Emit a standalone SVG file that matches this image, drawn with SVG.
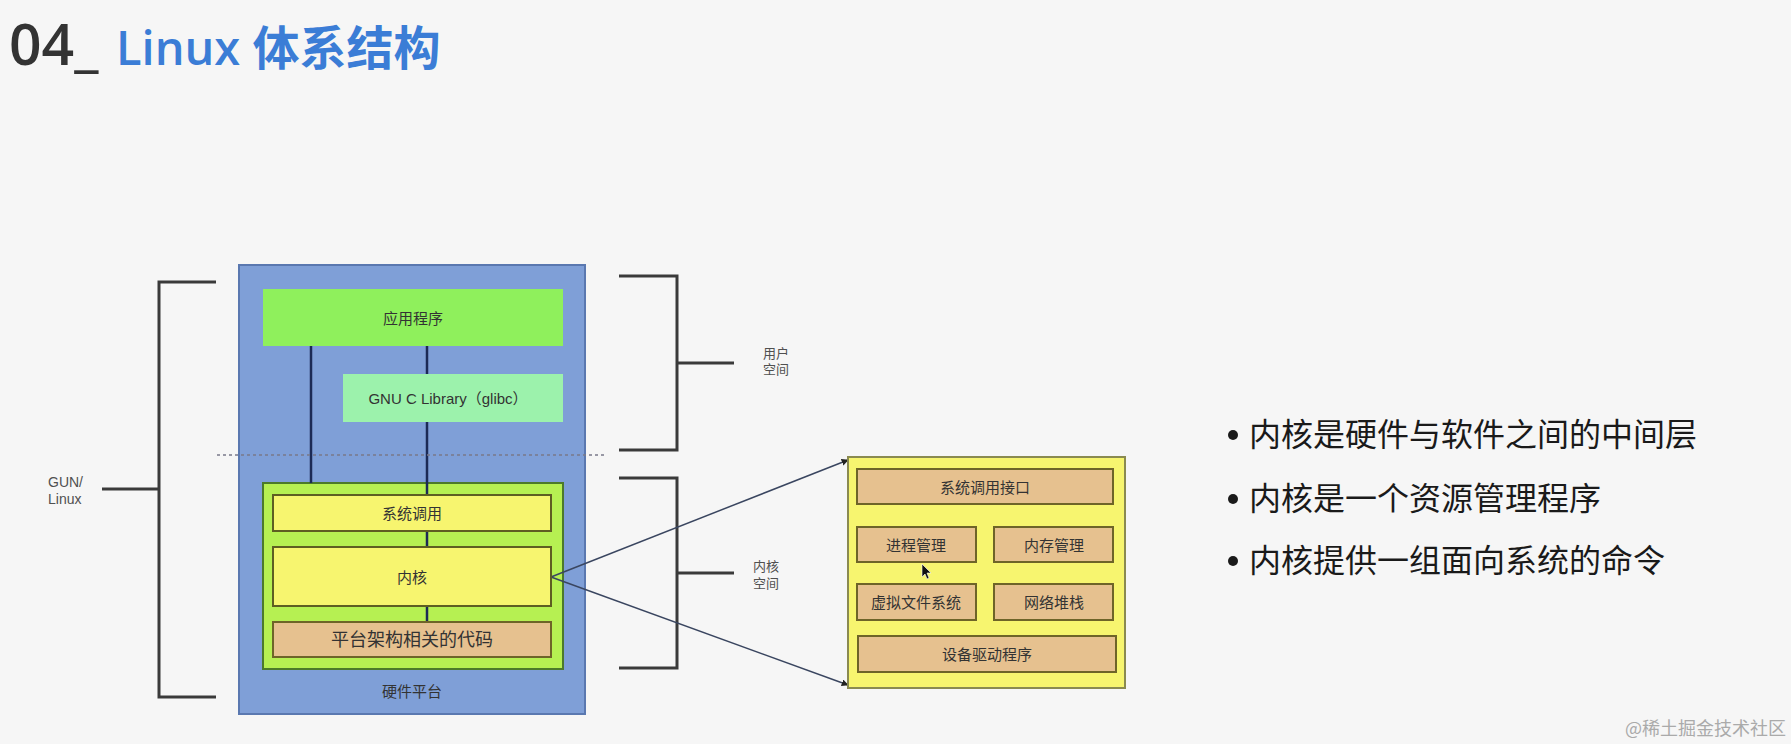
<svg xmlns="http://www.w3.org/2000/svg" width="1791" height="744" viewBox="0 0 1791 744">
<defs>
<style>
.lbl{font-family:"Liberation Sans","Noto Sans CJK SC",sans-serif;font-size:15px;fill:#333;text-anchor:middle;dominant-baseline:central}
.side{font-family:"Liberation Sans","Noto Sans CJK SC",sans-serif;font-size:14px;fill:#505050}
.bul{font-family:"Noto Sans CJK SC",sans-serif;font-size:32px;fill:#1a1a1a}
.brk{fill:none;stroke:#3a3a3a;stroke-width:3}
.vl{stroke:#1c2a55;stroke-width:2.5}
.tan{fill:#e6c18f;stroke:#6e6428;stroke-width:2}
.yel{fill:#f7f56f;stroke:#5e5e22;stroke-width:2}
.arr{stroke:#3a4660;stroke-width:1.5;fill:none;marker-end:url(#ah)}
</style>
<marker id="ah" viewBox="0 0 10 10" refX="9" refY="5" markerWidth="7" markerHeight="7" orient="auto" markerUnits="userSpaceOnUse">
<path d="M0,0 L10,5 L0,10 z" fill="#222"/>
</marker>
</defs>
<rect width="1791" height="744" fill="#f6f6f6"/>

<g id="title">
<text x="9" y="65" font-family="'Open Sans','Liberation Sans',sans-serif" font-weight="600" font-size="57" fill="#333">04_</text>
<text x="116" y="65" font-family="'Open Sans','Noto Sans CJK SC',sans-serif" font-weight="600" font-size="47" fill="#3b7dd6">Linux 体系结构</text>
</g>

<g id="hardware">
<rect x="239" y="265" width="346" height="449" fill="#7f9fd7" stroke="#5a78b0" stroke-width="2"/>
<text class="lbl" x="412" y="691">硬件平台</text>
</g>

<g id="app">
<rect x="263" y="289" width="300" height="57" fill="#8ff05c"/>
<text class="lbl" x="413" y="318">应用程序</text>
</g>

<g id="glibc">
<rect x="343" y="374" width="220" height="48" fill="#9cf2ac"/>
<text class="lbl" x="448" y="398">GNU C Library（glibc）</text>
</g>

<g id="kernel-space-box">
<rect x="263" y="483" width="300" height="186" fill="#b6f052" stroke="#4c7a2a" stroke-width="2"/>
</g>

<g id="connectors">
<line class="vl" x1="311" y1="346" x2="311" y2="483"/>
<line class="vl" x1="427" y1="346" x2="427" y2="374"/>
<line class="vl" x1="427" y1="422" x2="427" y2="495"/>
<line class="vl" x1="427" y1="531" x2="427" y2="547"/>
<line class="vl" x1="427" y1="606" x2="427" y2="622"/>
<line x1="217" y1="455" x2="607" y2="455" stroke="#7a7a8a" stroke-width="1.5" stroke-dasharray="3,3"/>
<path class="brk" d="M216,282 H159 V697 H216 M159,489 H102"/>
<path class="brk" d="M619,276 H677 V450 H619 M677,363 H734"/>
<path class="brk" d="M619,478 H677 V668 H619 M677,573 H734"/>
<line class="arr" x1="551" y1="577" x2="848" y2="460"/>
<line class="arr" x1="551" y1="577" x2="848" y2="685"/>
</g>

<g id="syscall">
<rect class="yel" x="273" y="495" width="278" height="36"/>
<text class="lbl" x="412" y="513">系统调用</text>
</g>
<g id="kernel">
<rect class="yel" x="273" y="547" width="278" height="59"/>
<text class="lbl" x="412" y="577">内核</text>
</g>
<g id="arch">
<rect class="tan" x="273" y="622" width="278" height="35"/>
<text class="lbl" x="412" y="640" style="font-size:18px">平台架构相关的代码</text>
</g>

<g id="gnu-linux-label">
<text class="side" x="48" y="487">GUN/</text>
<text class="side" x="48" y="504">Linux</text>
</g>
<g id="user-space-label">
<text class="side" x="763" y="358" style="font-size:13px">用户</text>
<text class="side" x="763" y="374" style="font-size:13px">空间</text>
</g>
<g id="kernel-space-label">
<text class="side" x="753" y="571" style="font-size:13px">内核</text>
<text class="side" x="753" y="588" style="font-size:13px">空间</text>
</g>

<g id="kernel-detail">
<rect x="848" y="457" width="277" height="231" fill="#f7f56f" stroke="#8a8a50" stroke-width="2"/>
</g>
<g id="sci">
<rect class="tan" x="857" y="469" width="256" height="35"/>
<text class="lbl" x="985" y="487">系统调用接口</text>
</g>
<g id="proc">
<rect class="tan" x="857" y="527" width="119" height="35"/>
<text class="lbl" x="916" y="545">进程管理</text>
</g>
<g id="mem">
<rect class="tan" x="994" y="527" width="119" height="35"/>
<text class="lbl" x="1054" y="545">内存管理</text>
</g>
<g id="vfs">
<rect class="tan" x="857" y="584" width="119" height="36"/>
<text class="lbl" x="916" y="602">虚拟文件系统</text>
</g>
<g id="net">
<rect class="tan" x="994" y="584" width="119" height="36"/>
<text class="lbl" x="1054" y="602">网络堆栈</text>
</g>
<g id="drivers">
<rect class="tan" x="858" y="636" width="258" height="36"/>
<text class="lbl" x="987" y="654">设备驱动程序</text>
</g>
<polygon points="922,564 922,577 925,574 927,579 929,578 927,573 931,573" fill="#111" stroke="#fff" stroke-width="0.6"/>

<g id="bullets">
<circle cx="1233" cy="435" r="5" fill="#1a1a1a"/>
<text class="bul" x="1249" y="446">内核是硬件与软件之间的中间层</text>
<circle cx="1233" cy="499" r="5" fill="#1a1a1a"/>
<text class="bul" x="1249" y="510">内核是一个资源管理程序</text>
<circle cx="1233" cy="561" r="5" fill="#1a1a1a"/>
<text class="bul" x="1249" y="572">内核提供一组面向系统的命令</text>
</g>

<text x="1625" y="735" font-family="'Noto Sans CJK SC',sans-serif" font-size="18" fill="#aaaaaa">@稀土掘金技术社区</text>
</svg>
